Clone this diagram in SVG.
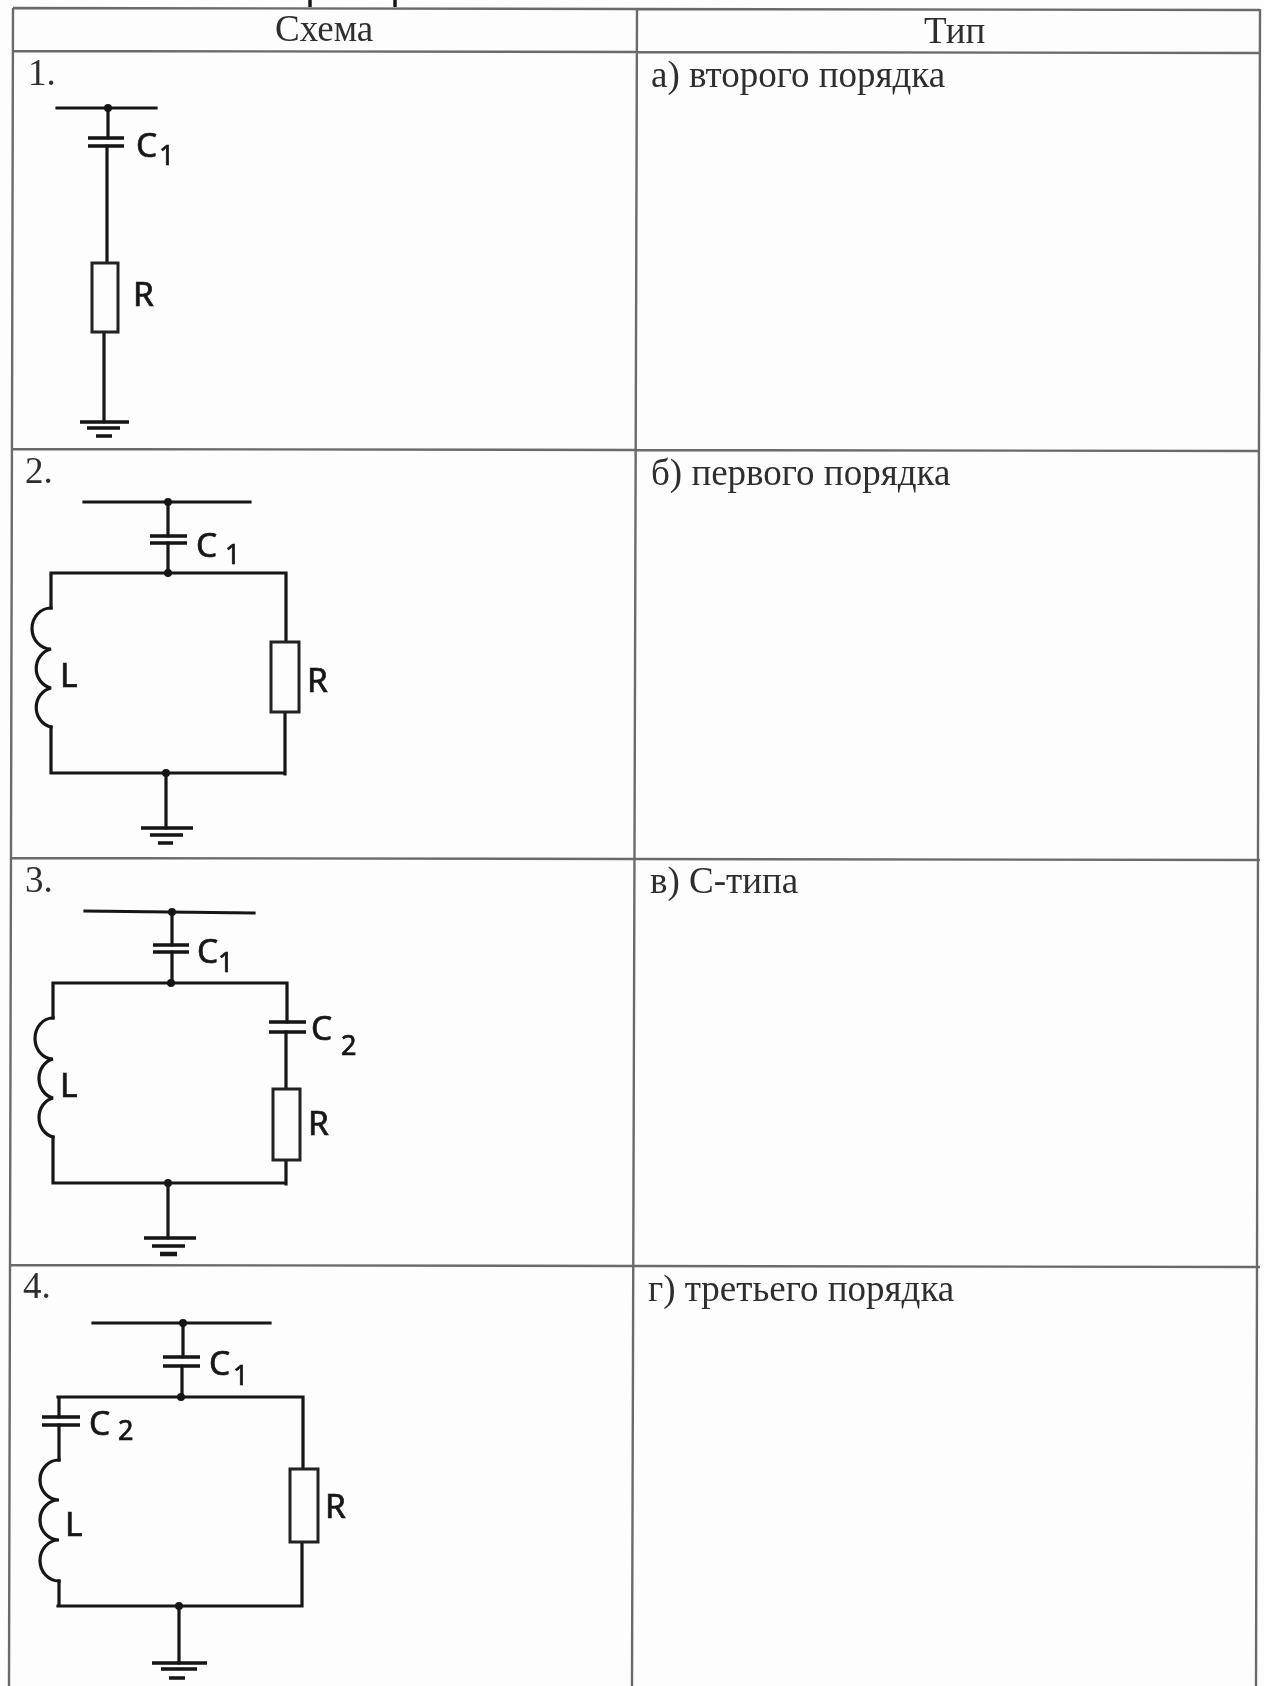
<svg xmlns="http://www.w3.org/2000/svg" width="1264" height="1686" viewBox="0 0 1264 1686">
<style>
.t{font-family:"Liberation Serif","Noto Sans CJK SC",serif;font-size:37px;fill:#2e2e2e}
.l{font-family:"Noto Sans","DejaVu Sans",sans-serif;font-size:33.5px;fill:#151515;stroke:#151515;stroke-width:.7}
.s{font-family:"Noto Sans","DejaVu Sans",sans-serif;font-size:27px;fill:#151515;stroke:#151515;stroke-width:.7}
.g{stroke:#6b6b6b;stroke-width:2.4;fill:none}
.w{stroke:#161616;stroke-width:3.2;fill:none;stroke-linecap:square;stroke-linejoin:miter}
.p{stroke:#161616;stroke-width:3.4;fill:none}
.r{stroke:#222;stroke-width:3;fill:#fdfdfd}
.d{fill:#161616}
</style>
<defs><filter id="b" x="-2%" y="-2%" width="104%" height="104%"><feGaussianBlur stdDeviation="0.55"/></filter></defs>
<rect width="1264" height="1686" fill="#fdfdfd"/>
<g filter="url(#b)">
<g id="table">
<path class="g" d="M13 8L9 1686M637 8L632 1686M1260 9L1256 1686M13 8L1260 10M13 51L1260 53M12 449L1260 451M10 858L1260 860M9 1265L1260 1267"/>
<path class="p" d="M310 0V7M395 0V7"/>
<text class="t" x="275" y="41">Схема</text>
<text class="t" x="924" y="43">Тип</text>
<text class="t" x="28" y="85">1.</text>
<text class="t" x="25" y="483">2.</text>
<text class="t" x="25" y="892">3.</text>
<text class="t" x="23" y="1298">4.</text>
<text class="t" x="651" y="87">а) второго порядка</text>
<text class="t" x="651" y="485">б) первого порядка</text>
<text class="t" x="650" y="893">в) С-типа</text>
<text class="t" x="648" y="1301">г) третьего порядка</text>
</g>
<g id="connectors">
<path class="w" d="M57 108H156M108 108V138M107 146V263M104 332V422"/>
<path class="w" d="M84 502H250M168 502V536M168 543V573M51 573H286M51 573V608M51 727V773M51 773H285M286 573V642M285 712V774M166 773V828"/>
<path class="w" d="M85 911L254 913M172 912V945M172 952V983M54 983H287M53 983V1018M53 1137V1183M53 1183H286M287 983V1022M286 1032V1089M286 1160V1184M168 1183V1238"/>
<path class="w" d="M93 1323H270M183 1323V1357M182 1366V1397M58 1397H303M59 1397V1417M59 1425V1460M59 1581V1605M58 1606H302M303 1397V1469M302 1542V1606M179 1606V1663"/>
</g>
<g id="circuit1">
<circle class="d" cx="108" cy="108" r="4"/>
<g id="c1-1"><path class="p" d="M88 138H124M88 146H124"/><text class="l" x="136" y="157">C</text><text class="s" x="159" y="165">1</text></g>
<g id="r-1"><rect class="r" x="92" y="263" width="26" height="69"/><text class="l" x="133" y="306">R</text></g>
<g id="gnd-1"><path class="p" d="M80 422H129M87 428H120M96 436H112"/></g>
</g>
<g id="circuit2">
<circle class="d" cx="168" cy="502" r="4"/><circle class="d" cx="168" cy="573" r="4"/><circle class="d" cx="166" cy="773" r="4"/>
<g id="c1-2"><path class="p" d="M150 536H187M150 543H187"/><text class="l" x="196" y="557">C</text><text class="s" x="225" y="564">1</text></g>
<g id="l-2"><path class="w" d="M51 608A19 20.5 0 0 0 51 649A19 20 0 0 0 51 688A19 20 0 0 0 51 727"/><text class="l" x="60" y="687">L</text></g>
<g id="r-2"><rect class="r" x="271" y="642" width="28" height="70"/><text class="l" x="307" y="692">R</text></g>
<g id="gnd-2"><path class="p" d="M141 828H193M150 835H183M158 843H173"/></g>
</g>
<g id="circuit3">
<circle class="d" cx="172" cy="912" r="4"/><circle class="d" cx="171" cy="983" r="4"/><circle class="d" cx="168" cy="1183" r="4"/>
<g id="c1-3"><path class="p" d="M153 945H189M153 952H189"/><text class="l" x="197" y="963">C</text><text class="s" x="218" y="972">1</text></g>
<g id="c2-3"><path class="p" d="M269 1022H306M269 1032H306"/><text class="l" x="311" y="1040">C</text><text class="s" x="341" y="1055">2</text></g>
<g id="l-3"><path class="w" d="M53 1018A18 20.5 0 0 0 53 1059A18 20 0 0 0 53 1098A18 20 0 0 0 53 1137"/><text class="l" x="60" y="1097">L</text></g>
<g id="r-3"><rect class="r" x="273" y="1089" width="27" height="71"/><text class="l" x="308" y="1135">R</text></g>
<g id="gnd-3"><path class="p" d="M144 1238H196M152 1246H185"/><path class="p" style="stroke-width:4.5" d="M160 1254H177"/></g>
</g>
<g id="circuit4">
<circle class="d" cx="183" cy="1323" r="4"/><circle class="d" cx="181" cy="1397" r="4"/><circle class="d" cx="179" cy="1606" r="4"/>
<g id="c1-4"><path class="p" d="M163 1357H200M163 1366H200"/><text class="l" x="209" y="1375">C</text><text class="s" x="233" y="1385">1</text></g>
<g id="c2-4"><path class="p" d="M42 1417H80M42 1425H80"/><text class="l" x="89" y="1435">C</text><text class="s" x="118" y="1440">2</text></g>
<g id="l-4"><path class="w" d="M59 1460A19 20 0 0 0 59 1500A19 20 0 0 0 59 1540A19 20.5 0 0 0 59 1581"/><text class="l" x="65" y="1536">L</text></g>
<g id="r-4"><rect class="r" x="290" y="1469" width="28" height="73"/><text class="l" x="325" y="1518">R</text></g>
<g id="gnd-4"><path class="p" d="M152 1663H207M161 1669H197M169 1678H185"/></g>
</g>
</g>
</svg>
